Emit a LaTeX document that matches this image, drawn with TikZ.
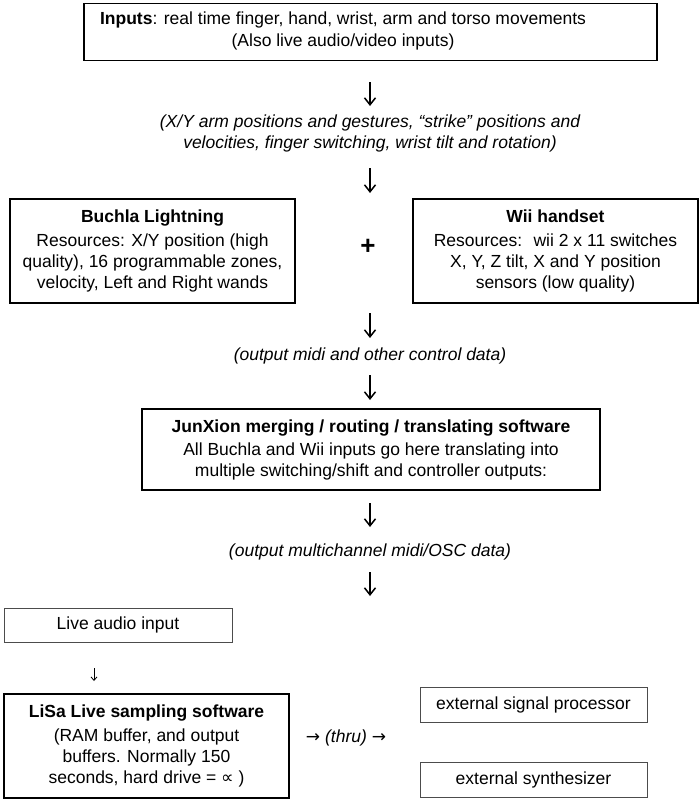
\documentclass[tikz,border=0pt]{standalone}
\usepackage{fontspec}
\setmainfont{Liberation Sans}
\newfontfamily\symfont{DejaVu Sans}
\usetikzlibrary{arrows.meta}
\begin{document}
\begin{tikzpicture}[x=1pt,y=-1pt,
  every node/.style={font=\fontsize{17.5}{21}\selectfont, align=center, inner sep=0pt},
  thickbox/.style={draw=black, line width=1.6pt},
  thinbox/.style={draw=black!70, line width=0.9pt},
  italictext/.style={font=\fontsize{17.5}{21}\selectfont\itshape},
  bigarrow/.style={line width=1.5pt, -{Straight Barb[length=7pt,width=11pt]}},
  smallarrow/.style={line width=0.8pt, -{Straight Barb[length=3.5pt,width=6pt]}}]
\useasboundingbox (0,0) rectangle (700,800);

% boxes and texts
\node[thickbox, minimum width=573, minimum height=57] (inputs) at (370.5,32) {};
\node (inputstext) at (343,31)
  {\textbf{Inputs}: real time finger, hand, wrist, arm and torso movements\\[1pt]
   (Also live audio/video inputs)};
\node[italictext] (gest) at (370,133)
  {(X/Y arm positions and gestures, “strike” positions and\\
   velocities, finger switching, wrist tilt and rotation)};
\node[thickbox, minimum width=285, minimum height=104] (buchla) at (152.5,251)
  {\textbf{Buchla Lightning}\\[3pt]
   Resources: X/Y position (high\\
   quality), 16 programmable zones,\\
   velocity, Left and Right wands};
\node[thickbox, minimum width=285, minimum height=104] (wii) at (555.5,251)
  {\textbf{Wii handset}\\[3pt]
   Resources:~ wii 2 x 11 switches\\
   X, Y, Z tilt, X and Y position\\
   sensors (low quality)};
\node (plus) at (368,247) {\fontsize{26}{26}\selectfont\bfseries +};
\node[italictext] (ctrl) at (370,356) {(output midi and other control data)};
\node[thickbox, minimum width=458, minimum height=81] (jun) at (371,449.5)
  {\textbf{JunXion merging / routing / translating software}\\[2pt]
   All Buchla and Wii inputs go here translating into\\
   multiple switching/shift and controller outputs:};
\node[italictext] (osc) at (370,552) {(output multichannel midi/OSC data)};
\node[thinbox, minimum width=228, minimum height=34] (live) at (118,625) {Live audio input};
\node[thickbox, minimum width=285, minimum height=104] (lisa) at (146.5,746)
  {\textbf{LiSa Live sampling software}\\[3pt]
   (RAM buffer, and output\\
   buffers. Normally 150\\
   seconds, hard drive = {\symfont ∝} )};
\node (thru) at (346,738) {{\symfont\fontsize{17}{17}\selectfont →} \textit{(thru)} {\symfont\fontsize{17}{17}\selectfont →}};
\node[thinbox, minimum width=227, minimum height=35] (extsig) at (533.5,704.5) {external signal processor};
\node[thinbox, minimum width=227, minimum height=35] (extsyn) at (533.5,779.5) {external synthesizer};

% arrow end points
\coordinate (a1s) at (370,82);  \coordinate (a1e) at (370,106);
\coordinate (a2s) at (370,168); \coordinate (a2e) at (370,193);
\coordinate (a3s) at (370,313); \coordinate (a3e) at (370,338);
\coordinate (a4s) at (370,375); \coordinate (a4e) at (370,400);
\coordinate (a5s) at (370,503); \coordinate (a5e) at (370,527);
\coordinate (a6s) at (370,572); \coordinate (a6e) at (370,596);
\coordinate (a7s) at (94,668);  \coordinate (a7e) at (94,681);

\draw[bigarrow] (a1s) -- (a1e);
\draw[bigarrow] (a2s) -- (a2e);
\draw[bigarrow] (a3s) -- (a3e);
\draw[bigarrow] (a4s) -- (a4e);
\draw[bigarrow] (a5s) -- (a5e);
\draw[bigarrow] (a6s) -- (a6e);
\draw[smallarrow] (a7s) -- (a7e);
\end{tikzpicture}
\end{document}
